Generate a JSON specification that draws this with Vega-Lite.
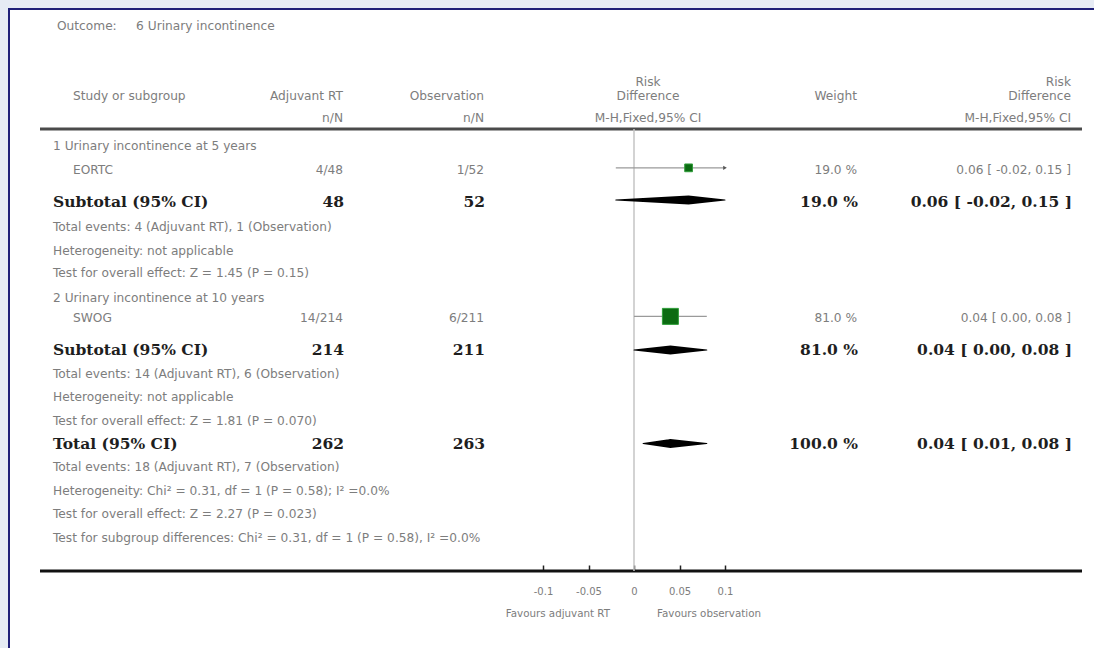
{
  "$schema": "https://vega.github.io/schema/vega-lite/v6.json",
  "width": 1085,
  "height": 639,
  "autosize": "none",
  "padding": {"left": 9, "top": 9, "right": 0, "bottom": 0},
  "background": "#e6ebf4",
  "config": {
    "view": {"fill": "#ffffff", "stroke": "#1f1f78", "strokeWidth": 2, "strokeDash": [1085, 1724, 639]},
    "text": {"baseline": "middle"}
  },
  "datasets": {
    "columns": [
      {"col": "edgeL", "idx": 0}, {"col": "sub", "idx": 1}, {"col": "title", "idx": 2},
      {"col": "study", "idx": 3}, {"col": "adj", "idx": 4}, {"col": "obs", "idx": 5},
      {"col": "mid", "idx": 6}, {"col": "weight", "idx": 7}, {"col": "rd", "idx": 8},
      {"col": "edgeR", "idx": 9}
    ],
    "rules": [
      {"line": "header", "row": -0.72, "from": "edgeL", "to": "edgeR"},
      {"line": "axis", "row": 18.09, "from": "edgeL", "to": "edgeR"}
    ],
    "cells": [
      {"row": -5.1, "col": "title", "kind": "title", "text": "Outcome:\u00a0\u00a0\u00a0\u00a0\u00a06 Urinary incontinence"},
      {"row": -2.13, "col": "study", "kind": "header", "text": "Study or subgroup"},
      {"row": -2.13, "col": "adj", "kind": "header", "text": "Adjuvant RT"},
      {"row": -1.19, "col": "adj", "kind": "header", "text": "n/N"},
      {"row": -2.13, "col": "obs", "kind": "header", "text": "Observation"},
      {"row": -1.19, "col": "obs", "kind": "header", "text": "n/N"},
      {"row": -2.72, "col": "mid", "kind": "header", "text": "Risk"},
      {"row": -2.13, "col": "mid", "kind": "header", "text": "Difference"},
      {"row": -1.19, "col": "mid", "kind": "header", "text": "M-H,Fixed,95% CI"},
      {"row": -2.13, "col": "weight", "kind": "header", "text": "Weight"},
      {"row": -2.72, "col": "rd", "kind": "header", "text": "Risk"},
      {"row": -2.13, "col": "rd", "kind": "header", "text": "Difference"},
      {"row": -1.19, "col": "rd", "kind": "header", "text": "M-H,Fixed,95% CI"},

      {"row": 0, "col": "sub", "kind": "subgroup", "text": "1 Urinary incontinence at 5 years"},
      {"row": 1, "col": "study", "kind": "study", "text": "EORTC"},
      {"row": 1, "col": "adj", "kind": "study", "text": "4/48"},
      {"row": 1, "col": "obs", "kind": "study", "text": "1/52"},
      {"row": 1, "col": "weight", "kind": "study", "text": "19.0 %"},
      {"row": 1, "col": "rd", "kind": "study", "text": "0.06 [ -0.02, 0.15 ]"},
      {"row": 2.4, "col": "sub", "kind": "subtotal", "text": "Subtotal (95% CI)"},
      {"row": 2.4, "col": "adj", "kind": "subtotal", "text": "48"},
      {"row": 2.4, "col": "obs", "kind": "subtotal", "text": "52"},
      {"row": 2.4, "col": "weight", "kind": "subtotal", "text": "19.0 %"},
      {"row": 2.4, "col": "rd", "kind": "subtotal", "text": "0.06 [ -0.02, 0.15 ]"},
      {"row": 3.45, "col": "sub", "kind": "stat", "text": "Total events: 4 (Adjuvant RT), 1 (Observation)"},
      {"row": 4.45, "col": "sub", "kind": "stat", "text": "Heterogeneity: not applicable"},
      {"row": 5.42, "col": "sub", "kind": "stat", "text": "Test for overall effect: Z = 1.45 (P = 0.15)"},
      {"row": 6.45, "col": "sub", "kind": "subgroup", "text": "2 Urinary incontinence at 10 years"},
      {"row": 7.32, "col": "study", "kind": "study", "text": "SWOG"},
      {"row": 7.32, "col": "adj", "kind": "study", "text": "14/214"},
      {"row": 7.32, "col": "obs", "kind": "study", "text": "6/211"},
      {"row": 7.32, "col": "weight", "kind": "study", "text": "81.0 %"},
      {"row": 7.32, "col": "rd", "kind": "study", "text": "0.04 [ 0.00, 0.08 ]"},
      {"row": 8.7, "col": "sub", "kind": "subtotal", "text": "Subtotal (95% CI)"},
      {"row": 8.7, "col": "adj", "kind": "subtotal", "text": "214"},
      {"row": 8.7, "col": "obs", "kind": "subtotal", "text": "211"},
      {"row": 8.7, "col": "weight", "kind": "subtotal", "text": "81.0 %"},
      {"row": 8.7, "col": "rd", "kind": "subtotal", "text": "0.04 [ 0.00, 0.08 ]"},
      {"row": 9.72, "col": "sub", "kind": "stat", "text": "Total events: 14 (Adjuvant RT), 6 (Observation)"},
      {"row": 10.7, "col": "sub", "kind": "stat", "text": "Heterogeneity: not applicable"},
      {"row": 11.72, "col": "sub", "kind": "stat", "text": "Test for overall effect: Z = 1.81 (P = 0.070)"},
      {"row": 12.7, "col": "sub", "kind": "total", "text": "Total (95% CI)"},
      {"row": 12.7, "col": "adj", "kind": "total", "text": "262"},
      {"row": 12.7, "col": "obs", "kind": "total", "text": "263"},
      {"row": 12.7, "col": "weight", "kind": "total", "text": "100.0 %"},
      {"row": 12.7, "col": "rd", "kind": "total", "text": "0.04 [ 0.01, 0.08 ]"},
      {"row": 13.68, "col": "sub", "kind": "stat", "text": "Total events: 18 (Adjuvant RT), 7 (Observation)"},
      {"row": 14.7, "col": "sub", "kind": "stat", "text": "Heterogeneity: Chi² = 0.31, df = 1 (P = 0.58); I² =0.0%"},
      {"row": 15.68, "col": "sub", "kind": "stat", "text": "Test for overall effect: Z = 2.27 (P = 0.023)"},
      {"row": 16.7, "col": "sub", "kind": "stat", "text": "Test for subgroup differences: Chi² = 0.31, df = 1 (P = 0.58), I² =0.0%"}
    ],
    "studies": [
      {"study": "EORTC", "row": 0.93, "est": 0.06, "lo": -0.02, "hi": 0.15, "weight": 19.0},
      {"study": "SWOG", "row": 7.25, "est": 0.04, "lo": 0.0, "hi": 0.08, "weight": 81.0}
    ],
    "summaries": [
      {"id": "Subtotal 1", "row": 2.3, "lo": -0.02, "est": 0.06, "hi": 0.15},
      {"id": "Subtotal 2", "row": 8.68, "lo": 0.0, "est": 0.04, "hi": 0.08},
      {"id": "Total", "row": 12.66, "lo": 0.01, "est": 0.04, "hi": 0.08}
    ],
    "favours": [
      {"side": "left", "rd": 0, "row": 19.91, "text": "Favours adjuvant RT"},
      {"side": "right", "rd": 0, "row": 19.91, "text": "Favours observation"}
    ]
  },
  "resolve": {"scale": {"x": "independent"}},
  "layer": [
    {
      "layer": [
        {
          "data": {"name": "rules"},
          "transform": [
            {"lookup": "from", "from": {"data": {"name": "columns"}, "key": "col", "fields": ["idx"]}, "as": ["x1"]},
            {"lookup": "to", "from": {"data": {"name": "columns"}, "key": "col", "fields": ["idx"]}, "as": ["x2"]}
          ],
          "mark": {"type": "rule", "strokeWidth": 3},
          "encoding": {
            "x": {"field": "x1", "type": "quantitative", "scale": {"domain": [0, 1, 2, 3, 4, 5, 6, 7, 8, 9], "range": [31, 44, 48, 64, 334, 475, 639, 848, 1062, 1073], "nice": false, "zero": false}, "axis": null},
            "x2": {"field": "x2"},
            "y": {"field": "row", "type": "quantitative", "scale": {"domain": [-6, 21], "range": [-4, 630.5], "nice": false, "zero": false}, "axis": null},
            "color": {"field": "line", "type": "nominal", "scale": {"domain": ["header", "axis"], "range": ["#4a4a4a", "#111111"]}, "legend": null}
          }
        },
        {
          "data": {"name": "cells"},
          "transform": [
            {"filter": "indexof(['title','sub','study'], datum.col) >= 0 && datum.kind != 'subtotal' && datum.kind != 'total'"},
            {"lookup": "col", "from": {"data": {"name": "columns"}, "key": "col", "fields": ["idx"]}}
          ],
          "mark": {"type": "text", "align": "left", "font": "DejaVu Sans", "fontSize": 12.2, "color": "#7d7d7d"},
          "encoding": {
            "x": {"field": "idx", "type": "quantitative", "axis": null},
            "y": {"field": "row", "type": "quantitative", "axis": null},
            "text": {"field": "text"}
          }
        },
        {
          "data": {"name": "cells"},
          "transform": [
            {"filter": "indexof(['adj','obs','weight','rd'], datum.col) >= 0 && datum.kind != 'subtotal' && datum.kind != 'total'"},
            {"lookup": "col", "from": {"data": {"name": "columns"}, "key": "col", "fields": ["idx"]}}
          ],
          "mark": {"type": "text", "align": "right", "font": "DejaVu Sans", "fontSize": 12.2, "color": "#7d7d7d"},
          "encoding": {
            "x": {"field": "idx", "type": "quantitative", "axis": null},
            "y": {"field": "row", "type": "quantitative", "axis": null},
            "text": {"field": "text"}
          }
        },
        {
          "data": {"name": "cells"},
          "transform": [
            {"filter": "datum.col == 'mid'"},
            {"lookup": "col", "from": {"data": {"name": "columns"}, "key": "col", "fields": ["idx"]}}
          ],
          "mark": {"type": "text", "align": "center", "font": "DejaVu Sans", "fontSize": 12.2, "color": "#7d7d7d"},
          "encoding": {
            "x": {"field": "idx", "type": "quantitative", "axis": null},
            "y": {"field": "row", "type": "quantitative", "axis": null},
            "text": {"field": "text"}
          }
        },
        {
          "data": {"name": "cells"},
          "transform": [
            {"filter": "datum.col == 'sub' && (datum.kind == 'subtotal' || datum.kind == 'total')"},
            {"lookup": "col", "from": {"data": {"name": "columns"}, "key": "col", "fields": ["idx"]}}
          ],
          "mark": {"type": "text", "align": "left", "font": "DejaVu Serif", "fontWeight": "bold", "fontSize": 15.5, "color": "#1e1e1e"},
          "encoding": {
            "x": {"field": "idx", "type": "quantitative", "axis": null},
            "y": {"field": "row", "type": "quantitative", "axis": null},
            "text": {"field": "text"}
          }
        },
        {
          "data": {"name": "cells"},
          "transform": [
            {"filter": "indexof(['adj','obs','weight','rd'], datum.col) >= 0 && (datum.kind == 'subtotal' || datum.kind == 'total')"},
            {"lookup": "col", "from": {"data": {"name": "columns"}, "key": "col", "fields": ["idx"]}}
          ],
          "mark": {"type": "text", "align": "right", "dx": 1, "font": "DejaVu Serif", "fontWeight": "bold", "fontSize": 15.5, "color": "#1e1e1e"},
          "encoding": {
            "x": {"field": "idx", "type": "quantitative", "axis": null},
            "y": {"field": "row", "type": "quantitative", "axis": null},
            "text": {"field": "text"}
          }
        }
      ]
    },
    {
      "layer": [
        {
          "data": {"values": [{"rd": 0, "from": -0.72, "to": 18.09}]},
          "mark": {"type": "rule", "color": "#c4c4c4", "strokeWidth": 1.5},
          "encoding": {
            "x": {
              "field": "rd", "type": "quantitative",
              "scale": {"domain": [-0.1, 0.1], "range": [534, 716], "clamp": true, "nice": false, "zero": false},
              "axis": {
                "orient": "bottom", "offset": -77, "values": [-0.1, -0.05, 0, 0.05, 0.1],
                "domain": false, "grid": false, "ticks": true, "tickSize": -6, "tickWidth": 1.5, "tickColor": "#222222",
                "labelExpr": "'' + datum.value", "labelFont": "DejaVu Sans", "labelFontSize": 10, "labelColor": "#7d7d7d",
                "labelPadding": 21, "labelOverlap": false, "labelFlush": false, "title": null
              }
            },
            "y": {"field": "from", "type": "quantitative", "axis": null},
            "y2": {"field": "to"}
          }
        },
        {
          "data": {"name": "studies"},
          "mark": {"type": "rule", "color": "#9a9a9a", "strokeWidth": 1.2},
          "encoding": {
            "x": {"field": "lo", "type": "quantitative"},
            "x2": {"field": "hi"},
            "y": {"field": "row", "type": "quantitative", "axis": null}
          }
        },
        {
          "data": {"name": "studies"},
          "transform": [{"filter": "datum.hi > 0.1"}],
          "mark": {"type": "point", "shape": "triangle-right", "filled": true, "color": "#555555", "size": 18, "opacity": 1},
          "encoding": {
            "x": {"field": "hi", "type": "quantitative"},
            "y": {"field": "row", "type": "quantitative", "axis": null}
          }
        },
        {
          "data": {"name": "studies"},
          "mark": {"type": "point", "shape": "square", "filled": true, "fill": "#0c6b12", "stroke": "#2f9e3a", "strokeWidth": 1, "opacity": 1},
          "encoding": {
            "x": {"field": "est", "type": "quantitative"},
            "y": {"field": "row", "type": "quantitative", "axis": null},
            "size": {"field": "weight", "type": "quantitative", "scale": {"domain": [0, 81], "range": [0, 256], "zero": true}, "legend": null}
          }
        },
        {
          "data": {"name": "summaries"},
          "transform": [{"fold": ["lo", "est", "hi"], "as": ["vertex", "value"]}],
          "mark": {"type": "trail", "color": "#000000"},
          "encoding": {
            "x": {"field": "value", "type": "quantitative"},
            "y": {"field": "row", "type": "quantitative", "axis": null},
            "detail": {"field": "id"},
            "order": {"field": "value", "type": "quantitative"},
            "size": {"field": "vertex", "type": "ordinal", "scale": {"type": "ordinal", "domain": ["lo", "est", "hi"], "range": [0, 9, 0]}, "legend": null}
          }
        },
        {
          "data": {"name": "favours"},
          "transform": [{"filter": "datum.side == 'left'"}],
          "mark": {"type": "text", "align": "right", "dx": -24, "font": "DejaVu Sans", "fontSize": 10.3, "color": "#7d7d7d"},
          "encoding": {
            "x": {"field": "rd", "type": "quantitative"},
            "y": {"field": "row", "type": "quantitative", "axis": null},
            "text": {"field": "text"}
          }
        },
        {
          "data": {"name": "favours"},
          "transform": [{"filter": "datum.side == 'right'"}],
          "mark": {"type": "text", "align": "left", "dx": 23, "font": "DejaVu Sans", "fontSize": 10.3, "color": "#7d7d7d"},
          "encoding": {
            "x": {"field": "rd", "type": "quantitative"},
            "y": {"field": "row", "type": "quantitative", "axis": null},
            "text": {"field": "text"}
          }
        }
      ]
    }
  ]
}
